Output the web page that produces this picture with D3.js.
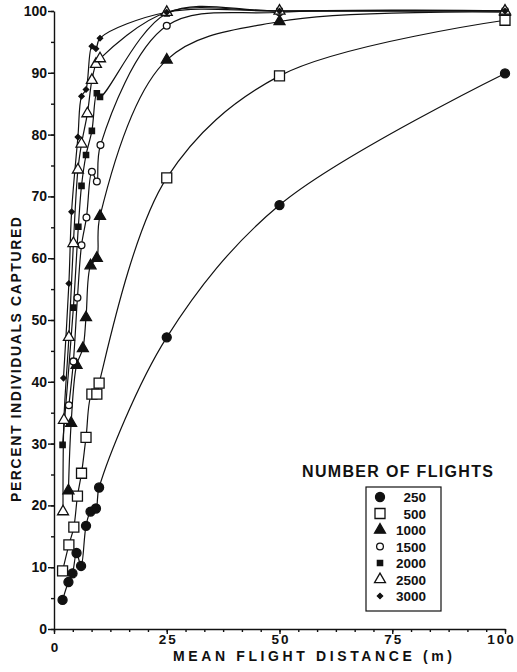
<!DOCTYPE html>
<html>
<head>
<meta charset="utf-8">
<script src="https://cdn.jsdelivr.net/npm/d3@7/dist/d3.min.js"></script>
<style>
  body { margin: 0; background: #fff; }
  svg text { font-family: "Liberation Sans", Arial, sans-serif; font-weight: bold; fill: #111; }
</style>
</head>
<body>
<svg id="chart" width="517" height="672"></svg>
<script>
// percent captured vs mean flight distance, one array pair per flight count
const x250 = [1.9, 3.2, 4.1, 5.0, 6.0, 7.1, 8.1, 9.3, 10.0, 25, 50, 100];
const y250 = [4.7, 7.6, 9.0, 12.3, 10.2, 16.7, 19.0, 19.5, 22.9, 47.2, 68.6, 89.9];

const x500 = [1.9, 3.3, 4.4, 5.2, 6.1, 7.1, 8.4, 9.5, 10.0, 25, 50, 100];
const y500 = [9.4, 13.6, 16.5, 21.5, 25.2, 31.0, 38.0, 38.0, 39.8, 73.0, 89.5, 98.5];

const x1000 = [3.2, 3.8, 5.0, 6.4, 7.1, 8.1, 9.5, 10.2, 25, 50, 100];
const y1000 = [22.4, 33.3, 42.7, 45.4, 50.4, 58.8, 60.0, 66.8, 92.1, 98.3, 99.8];

const x1500 = [3.3, 4.3, 5.2, 6.1, 7.2, 8.4, 9.5, 10.3, 25, 50, 100];
const y1500 = [36.2, 43.3, 53.6, 62.1, 66.6, 74.0, 72.4, 78.3, 97.6, 99.8, 100];

const x2000 = [1.9, 4.3, 5.4, 6.1, 7.1, 8.4, 9.5, 10.2, 25, 50, 100];
const y2000 = [29.8, 52.0, 65.1, 71.7, 76.7, 80.6, 86.7, 86.1, 99.6, 100, 100];

const x2500 = [2.0, 2.2, 3.3, 4.3, 5.3, 6.1, 7.4, 8.4, 9.3, 10.2, 25, 50, 100];
const y2500 = [19.0, 33.8, 47.2, 62.4, 74.3, 78.5, 83.4, 88.8, 91.4, 92.3, 99.8, 100, 100];

const x3000 = [2.1, 3.3, 3.9, 5.3, 6.1, 7.1, 8.4, 9.3, 10.2, 25, 50, 100];
const y3000 = [40.6, 55.9, 67.5, 79.6, 86.2, 87.3, 94.3, 93.9, 95.6, 99.8, 100, 100];

const flightLabels = ["250", "500", "1000", "1500", "2000", "2500", "3000"];
const xTicks = [0, 25, 50, 75, 100];
const yTicks = [0, 10, 20, 30, 40, 50, 60, 70, 80, 90, 100];

const svg = d3.select("#chart");

const x = d3.scaleLinear().domain([0, 100]).range([54, 505]);
const y = d3.scaleLinear().domain([0, 100]).range([629, 11]);

// marker look for each series
const markers = [
    {type: d3.symbolCircle, size: 64, fill: "#111", rot: 0},
    {type: d3.symbolSquare, size: 100, fill: "#fff", rot: 0},
    {type: d3.symbolTriangle, size: 52, fill: "#111", rot: 0},
    {type: d3.symbolCircle, size: 36, fill: "#fff", rot: 0},
    {type: d3.symbolSquare, size: 28, fill: "#111", rot: 0},
    {type: d3.symbolTriangle, size: 52, fill: "#fff", rot: 0},
    {type: d3.symbolSquare, size: 14, fill: "#111", rot: 45}
];

const xs = [x250, x500, x1000, x1500, x2000, x2500, x3000];
const ys = [y250, y500, y1000, y1500, y2000, y2500, y3000];

let series = flightLabels.map(function (label, i) {
    return {
        label: label,
        marker: markers[i],
        points: xs[i].map((v, j) => ({x: v, y: ys[i][j]}))
    };
});

// axes
const minorX = d3.range(0, 100.01, 25 / 6);
const minorY = d3.range(0, 101, 5);

svg.append("g")
    .attr("transform", "translate(0,629)")
    .call(d3.axisBottom(x).tickValues(minorX).tickSize(3).tickFormat(""))
    .call(g => g.select(".domain").remove());

const xAxis = svg.append("g")
    .attr("transform", "translate(0,629)")
    .call(d3.axisBottom(x).tickValues(xTicks).tickSize(5).tickPadding(1).tickSizeOuter(0));
xAxis.selectAll("text")
    .style("font-size", "13.5px")
    .style("letter-spacing", "2px")
    .attr("dy", null)
    .attr("dx", d => d === 100 ? -4 : 1)
    .attr("y", d => d === 0 ? 23 : 15);

svg.append("g")
    .attr("transform", "translate(54,0)")
    .call(d3.axisLeft(y).tickValues(minorY).tickSize(3).tickFormat(""))
    .call(g => g.select(".domain").remove());

const yAxis = svg.append("g")
    .attr("transform", "translate(54,0)")
    .call(d3.axisLeft(y).tickValues(yTicks).tickSize(6).tickPadding(1).tickSizeOuter(0));
yAxis.selectAll("text").style("font-size", "14px");

svg.selectAll(".domain, .tick line").attr("stroke", "#111").attr("stroke-width", 1.4);

// axis titles
svg.append("text")
    .attr("x", 173).attr("y", 661)
    .attr("textLength", 279).attr("lengthAdjust", "spacing")
    .style("font-size", "14px")
    .text("MEAN  FLIGHT  DISTANCE  (m)");

svg.append("text")
    .attr("transform", "translate(21,502) rotate(-90)")
    .attr("textLength", 285).attr("lengthAdjust", "spacing")
    .style("font-size", "14px")
    .text("PERCENT  INDIVIDUALS  CAPTURED");

// curves
const line = d3.line()
    .x(d => x(d.x))
    .y(d => y(d.y))
    .curve(d3.curveCatmullRom.alpha(0.5));

svg.append("g")
    .selectAll("path")
    .data(series)
    .join("path")
    .attr("d", d => line(d.points))
    .attr("fill", "none")
    .attr("stroke", "#111")
    .attr("stroke-width", 1.2);

// markers
const symbolPath = m => d3.symbol().type(m.type).size(m.size)();

series.forEach(function (s) {
    svg.append("g")
        .selectAll("path")
        .data(s.points)
        .join("path")
        .attr("d", symbolPath(s.marker))
        .attr("transform", d => `translate(${x(d.x)},${y(d.y)}) rotate(${s.marker.rot})`)
        .attr("fill", s.marker.fill)
        .attr("stroke", "#111")
        .attr("stroke-width", 1.3);
});

// legend
svg.append("text")
    .attr("x", 302).attr("y", 477)
    .attr("textLength", 191).attr("lengthAdjust", "spacing")
    .style("font-size", "16px")
    .text("NUMBER OF FLIGHTS");

svg.append("rect")
    .attr("x", 366).attr("y", 487)
    .attr("width", 75).attr("height", 124)
    .attr("fill", "#fff")
    .attr("stroke", "#111")
    .attr("stroke-width", 1.2);

const legendY = d3.scaleLinear().domain([0, 6]).range([497, 596]);

const legendRows = svg.append("g")
    .selectAll("g")
    .data(series)
    .join("g")
    .attr("transform", (d, i) => `translate(0,${legendY(i)})`);

legendRows.append("path")
    .attr("d", d => symbolPath(d.marker))
    .attr("transform", d => `translate(380,0) rotate(${d.marker.rot})`)
    .attr("fill", d => d.marker.fill)
    .attr("stroke", "#111")
    .attr("stroke-width", 1.3);

legendRows.append("text")
    .attr("x", 426).attr("y", 5)
    .attr("text-anchor", "end")
    .style("font-size", "13.5px")
    .text(d => d.label);
</script>
</body>
</html>
